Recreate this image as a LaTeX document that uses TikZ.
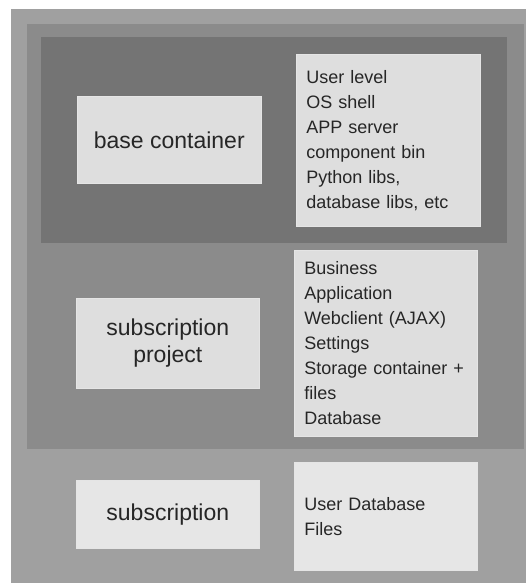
\documentclass[tikz,border=0pt]{standalone}
\usepackage{fontspec}
\setmainfont{Liberation Sans}
\definecolor{outerg}{HTML}{A0A0A0}
\definecolor{midg}{HTML}{8B8B8B}
\definecolor{darkg}{HTML}{747474}
\definecolor{boxg}{HTML}{DEDEDE}
\definecolor{boxl}{HTML}{E6E6E6}
\definecolor{txt}{HTML}{262626}
\begin{document}
\begin{tikzpicture}[x=1pt,y=1pt,
  layer/.style={draw=none},
  labelbox/.style={anchor=north west, inner sep=0pt, align=center,
    font=\fontsize{23}{27}\selectfont, text=txt, draw=white!80!gray, line width=0.6pt},
  listbox/.style={anchor=north west, inner xsep=10pt, inner ysep=0pt, align=left,
    font=\fontsize{18}{25}\selectfont, text=txt, draw=white!80!gray, line width=0.6pt}]
\useasboundingbox (0,0) rectangle (527,-583);
\fill[white] (0,0) rectangle (527,-583);
% layers
\fill[outerg] (11,-9) rectangle (526,-583);
\fill[midg] (27,-24) rectangle (524,-449);
\fill[darkg] (41,-37) rectangle (507,-243);
% base container row
\node[labelbox, fill=boxg, minimum width=184pt, minimum height=87pt] (base) at (77,-96) {base container};
\node[listbox, fill=boxg, minimum width=184pt, minimum height=172pt, text width=164pt] (baselist) at (296,-54)
  {User level\\OS shell\\APP server\\component bin\\Python libs,\\database libs, etc};
% subscription project row
\node[labelbox, fill=boxg, minimum width=183pt, minimum height=90pt] (proj) at (76,-298) {subscription\\project};
\node[listbox, fill=boxg, minimum width=183pt, minimum height=186pt, text width=163pt] (projlist) at (294,-250)
  {Business\\Application\\Webclient (AJAX)\\Settings\\Storage container +\\files\\Database};
% subscription row
\node[labelbox, fill=boxl, minimum width=183pt, minimum height=68pt] (sub) at (76,-480) {subscription};
\node[listbox, fill=boxl, minimum width=183pt, minimum height=108pt, text width=163pt] (sublist) at (294,-462)
  {User Database\\Files};
\end{tikzpicture}
\end{document}
